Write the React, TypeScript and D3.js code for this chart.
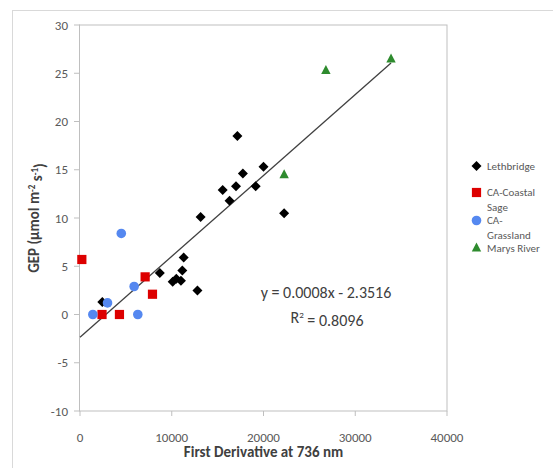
import React from "react";
import * as d3 from "d3";

const lethbridge: [number, number][] = [
  [2430, 1.3], [8700, 4.3], [10100, 3.4], [10500, 3.7], [11000, 3.5], [11150, 4.55],
  [11300, 5.9], [12800, 2.5], [13150, 10.1], [15550, 12.9], [16300, 11.8], [17000, 13.3],
  [17150, 18.5], [17750, 14.6], [19150, 13.3], [20000, 15.3], [22250, 10.5],
];
const coastalSage: [number, number][] = [
  [200, 5.7], [7100, 3.9], [7900, 2.1], [2400, 0], [4300, 0],
];
const grassland: [number, number][] = [
  [4500, 8.4], [5900, 2.9], [3000, 1.2], [1400, 0], [6300, 0],
];
const marysRiver: [number, number][] = [
  [26800, 25.3], [33900, 26.5], [22250, 14.5],
];
const xTicks = [0, 10000, 20000, 30000, 40000];
const yTicks = [-10, -5, 0, 5, 10, 15, 20, 25, 30];
const trendSlope = 0.000838;
const trendIntercept = -2.3516;
const equationText = "y = 0.0008x - 2.3516";
const r2Text = "0.8096";

const legendItems = [
  { key: "lethbridge", lines: ["Lethbridge"], color: "#000000", shape: "diamond" },
  { key: "coastal", lines: ["CA-Coastal", "Sage"], color: "#dd0000", shape: "square" },
  { key: "grass", lines: ["CA-", "Grassland"], color: "#5588f0", shape: "circle" },
  { key: "marys", lines: ["Marys River"], color: "#2e8b2e", shape: "triangle" },
];

const FONT = "Carlito, Lato, 'Liberation Sans', sans-serif";

function Marker({ shape, x, y, color }: { shape: string; x: number; y: number; color: string }) {
  if (shape === "diamond") {
    const r = 5;
    return <path d={`M${x},${y - r}L${x + r},${y}L${x},${y + r}L${x - r},${y}Z`} fill={color} />;
  }
  if (shape === "square") {
    return <rect x={x - 4.6} y={y - 4.6} width={9.2} height={9.2} fill={color} />;
  }
  if (shape === "circle") {
    return <circle cx={x} cy={y} r={4.8} fill={color} />;
  }
  const h = 9;
  return <path d={`M${x},${y - h * 0.6}L${x + 4.7},${y + h * 0.4}L${x - 4.7},${y + h * 0.4}Z`} fill={color} />;
}

export default function App() {
  const x = d3.scaleLinear().domain([0, 40000]).range([80, 447]);
  const y = d3.scaleLinear().domain([-10, 30]).range([411, 25]);
  const allX = [...lethbridge, ...coastalSage, ...grassland, ...marysRiver].map((d) => d[0]);
  const xMax = d3.max(allX) as number;
  const trend = d3.line<number>().x((v) => x(v)).y((v) => y(trendSlope * v + trendIntercept));
  const series = [
    { data: lethbridge, ...legendItems[0] },
    { data: coastalSage, ...legendItems[1] },
    { data: grassland, ...legendItems[2] },
    { data: marysRiver, ...legendItems[3] },
  ];
  const legendY = [166, 192.5, 220.5, 248];
  const axisColor = "#bfbfbf";
  const [x0, x1] = x.range();
  const [y0, y1] = y.range();
  return (
    <svg width={553} height={468} style={{ position: "absolute", left: 0, top: 0, background: "#fff" }} fontFamily={FONT}>
      <rect x={12.5} y={10.5} width={700} height={600} fill="#fff" stroke="#d9d9d9" />
      <rect x={x0 - 0.5} y={y1} width={x1 - x0 + 0.5} height={y0 - y1} fill="none" stroke={axisColor} />
      {yTicks.map((t) => (
        <g key={t}>
          <line x1={x0 - 6} x2={x0} y1={y(t)} y2={y(t)} stroke={axisColor} />
          <text x={x0 - 12} y={y(t)} dy="0.35em" textAnchor="end" fontSize={13} fill="#595959">{t}</text>
        </g>
      ))}
      {xTicks.map((t) => (
        <g key={t}>
          <line x1={x(t)} x2={x(t)} y1={y0} y2={y0 + 5} stroke={axisColor} />
          <text x={x(t)} y={437} dy="0.35em" textAnchor="middle" fontSize={13} fill="#595959">{t}</text>
        </g>
      ))}
      <path d={trend([0, xMax]) || ""} stroke="#404040" strokeWidth={1.3} fill="none" />
      {series.map((s) =>
        s.data.map((d, i) => <Marker key={s.key + i} shape={s.shape} x={x(d[0])} y={y(d[1])} color={s.color} />)
      )}
      <text x={326} y={292} dy="0.35em" textAnchor="middle" fontSize={16} fill="#404040">{equationText}</text>
      <text x={327} y={317} dy="0.35em" textAnchor="middle" fontSize={16} fill="#404040">
        R<tspan dy="-0.5em" fontSize={9}>2</tspan><tspan dy="0.5em"> = {r2Text}</tspan>
      </text>
      {legendItems.map((l, i) => (
        <g key={l.key}>
          <Marker shape={l.shape} x={476.5} y={legendY[i]} color={l.color} />
          {l.lines.map((ln, j) => (
            <text key={j} x={487} y={legendY[i] + j * 14.5} dy="0.35em" fontSize={11} fill="#595959">{ln}</text>
          ))}
        </g>
      ))}
      <text x={(x0 + x1) / 2} y={452} dy="0.35em" textAnchor="middle" fontSize={15} fontWeight="bold" fill="#404040">
        First Derivative at 736 nm
      </text>
      <text transform={`translate(34,${(y0 + y1) / 2}) rotate(-90)`} textAnchor="middle" dy="0.35em" fontSize={15} fontWeight="bold" fill="#404040">
        GEP (μmol m<tspan dy="-0.5em" fontSize={9}>-2</tspan><tspan dy="0.5em"> s</tspan><tspan dy="-0.5em" fontSize={9}>-1</tspan><tspan dy="0.5em">)</tspan>
      </text>
    </svg>
  );
}
